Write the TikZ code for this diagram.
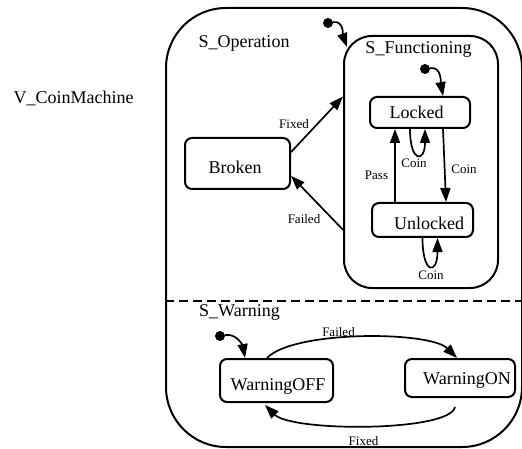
\documentclass[tikz,border=0pt]{standalone}
\usepackage{fontspec}
\setmainfont{Liberation Serif}
\usetikzlibrary{arrows.meta,calc}
\newcommand\txtoff[3]{\raisebox{#2}[\height][\depth]{\hspace*{#1}#3\hspace*{-#1}}}
\begin{document}
\begin{tikzpicture}[x=1pt,y=-1pt,
  statebox/.style={draw, line width=2pt, rounded corners=7pt, inner sep=0pt, font=\fontsize{18}{20}\selectfont},
  region/.style={draw, line width=2pt, inner sep=0pt},
  trans/.style={line width=1.7pt, -{Triangle[length=14pt,width=10pt]}},
  lbl/.style={font=\fontsize{13}{15}\selectfont, inner sep=0pt},
  title/.style={font=\fontsize{18}{20}\selectfont, inner sep=0pt},
  initdot/.style={circle, fill, inner sep=0pt, minimum size=10pt}]
\useasboundingbox (0,0) rectangle (522,449);
% regions
\node[region, rounded corners=60pt, minimum width=356pt, minimum height=439pt] (op) at (344,227.5) {};
\node[region, rounded corners=28pt, minimum width=154pt, minimum height=252pt] (func) at (421,162) {};
\coordinate (dl) at (166,301);
\coordinate (dr) at (522,301);
\draw[line width=2pt, dash pattern=on 9pt off 5pt] (op.west |- dl) -- (op.east |- dr);
% titles
\node[title] (tv) at (73.5,98) {V\_CoinMachine};
\node[title] (top) at (244,43) {S\_Operation};
\node[title] (tfunc) at (418.5,49) {S\_Functioning};
\node[title] (twarn) at (239.5,312) {S\_Warning};
% states
\node[statebox, minimum width=105pt, minimum height=51pt] (broken) at (237.5,163.5) {\txtoff{-2.5pt}{-3.5pt}{Broken}};
\node[statebox, minimum width=100pt, minimum height=31pt] (locked) at (420,112.5) {\txtoff{-3.5pt}{0pt}{Locked}};
\node[statebox, minimum width=101pt, minimum height=34pt] (unlocked) at (422.5,220) {\txtoff{6.5pt}{-3pt}{Unlocked}};
\node[statebox, minimum width=113pt, minimum height=43pt] (woff) at (276.5,380.5) {\txtoff{1.5pt}{-6pt}{WarningOFF}};
\node[statebox, minimum width=110pt, minimum height=38pt] (won) at (460,378) {\txtoff{7pt}{-2pt}{WarningON}};
% initial dots
\node[initdot] (i1) at (328,23) {};
\node[initdot] (i2) at (425,69) {};
\node[initdot] (i3) at (220,336) {};
% transitions
\draw[trans] (i1) to[out=10,in=110] ([shift={(4,12)}]func.north west);
\draw[trans] (i2) to[out=10,in=100] ([shift={(23,0)}]locked.north);
\draw[trans] (i3) to[out=10,in=100] ([shift={(-31.5,0)}]woff.north);
\draw[trans] (broken.12) -- (func.140);
\draw[trans] (func.221) -- (broken.-13);
\draw[trans] ([shift={(23,0)}]locked.south) -- ([shift={(23.5,0)}]unlocked.north);
\draw[trans] ([shift={(-27.5,0)}]unlocked.north) -- ([shift={(-25,0)}]locked.south);
\draw[trans] ([shift={(-10,0)}]locked.south) .. controls +(0,34) and +(0,34) .. ([shift={(5,0)}]locked.south);
\draw[trans] (unlocked.south) .. controls +(0,37) and +(0,37) .. ([shift={(15,0)}]unlocked.south);
\draw[trans] ([shift={(-9.5,0)}]woff.north) .. controls +(27,-28) and +(-27,-27) .. ([shift={(-3,0)}]won.north);
\draw[trans] ([shift={(-5,9)}]won.south) .. controls +(-5,25) and +(27,27) .. ([shift={(-11.5,2)}]woff.south);
% labels
\node[lbl] (lfixed1) at (294,124) {Fixed};
\node[lbl] (lfailed1) at (304,219) {Failed};
\node[lbl] (lpass) at (376.5,175) {Pass};
\node[lbl] (lcoin1) at (414,163) {Coin};
\node[lbl] (lcoin2) at (464,169) {Coin};
\node[lbl] (lcoin3) at (431,275) {Coin};
\node[lbl] (lfailed2) at (338.5,332) {Failed};
\node[lbl] (lfixed2) at (363.5,441) {Fixed};
\end{tikzpicture}
\end{document}
